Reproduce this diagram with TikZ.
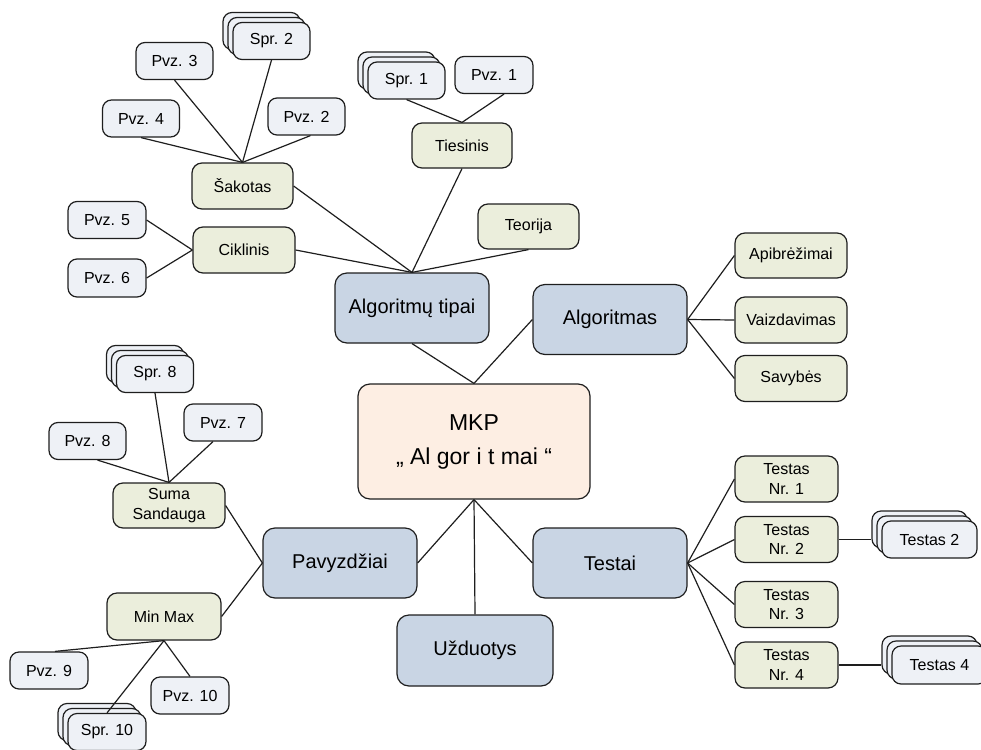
\documentclass[tikz,border=0pt]{standalone}
\usepackage{fontspec}
\setmainfont{Liberation Sans}
\definecolor{edge}{HTML}{1E1E1E}
\definecolor{leaffill}{HTML}{EEF1F6}
\definecolor{subfill}{HTML}{EBEEDC}
\definecolor{mainfill}{HTML}{C9D5E4}
\definecolor{rootfill}{HTML}{FDEEE3}
\begin{document}
\begin{tikzpicture}[x=1pt,y={(0pt,-1pt)},
  box/.style={draw=edge, line width=1.2pt, rounded corners=9pt, inner sep=0pt, align=center},
  leaf/.style={box, fill=leaffill, minimum width=77pt, minimum height=37pt,
    font=\fontsize{16}{19}\selectfont},
  sub/.style={box, fill=subfill, rounded corners=10pt, minimum height=45pt,
    font=\fontsize{16}{19.5}\selectfont},
  main/.style={box, fill=mainfill, rounded corners=12pt, minimum width=154pt,
    minimum height=70pt, font=\fontsize{20}{24}\selectfont},
  root/.style={box, fill=rootfill, rounded corners=12pt, minimum width=232pt,
    minimum height=115pt, font=\fontsize{23}{34}\selectfont},
  conn/.style={draw=edge, line width=1.2pt}]
\useasboundingbox (0,0) rectangle (981,749);

% centre and first level
\node[root] (mkp) at (474,441.5) {MKP\\„ Al gor i t mai “};
\node[main] (tipai) at (412,308) {Algoritmų tipai};
\node[main] (algo) at (610,319.5) {Algoritmas};
\node[main] (testai) at (610,563) {Testai};
\node[main] (pavyz) at (340,563) {Pavyzdžiai};
\node[main, minimum width=156pt, minimum height=71pt] (uzd) at (475,650.5) {Užduotys};

% second level
\node[sub, minimum width=100pt] (tiesinis) at (462,145.5) {Tiesinis};
\node[sub, minimum width=101pt] (teorija) at (528.5,226.5) {Teorija};
\node[sub, minimum width=101pt, minimum height=46pt] (sakotas) at (242.5,186) {Šakotas};
\node[sub, minimum width=102pt, minimum height=46pt] (ciklinis) at (244,250) {Ciklinis};
\node[sub, minimum width=112pt] (apibr) at (791,255.5) {Apibrėžimai};
\node[sub, minimum width=112pt, minimum height=46pt] (vaizd) at (791,320) {Vaizdavimas};
\node[sub, minimum width=112pt, minimum height=46pt] (savyb) at (791,378.5) {Savybės};
\node[sub, minimum width=103pt, minimum height=46pt] (nr1) at (786.5,479) {Testas\\Nr. 1};
\node[sub, minimum width=103pt, minimum height=46pt] (nr2) at (786.5,539.5) {Testas\\Nr. 2};
\node[sub, minimum width=103pt, minimum height=46pt] (nr3) at (786.5,604.5) {Testas\\Nr. 3};
\node[sub, minimum width=103pt, minimum height=46pt] (nr4) at (786.5,665) {Testas\\Nr. 4};
\node[sub, minimum width=112pt] (suma) at (169,505.5) {Suma\\Sandauga};
\node[sub, minimum width=114pt, minimum height=47pt] (minmax) at (164,616.5) {Min Max};

% leaves
\node[leaf, minimum width=78pt] (pvz1) at (494,75) {Pvz. 1};
\node[leaf] (pvz2) at (306.5,116.5) {Pvz. 2};
\node[leaf] (pvz3) at (174.5,61) {Pvz. 3};
\node[leaf] (pvz4) at (141,118.5) {Pvz. 4};
\node[leaf, minimum width=78pt] (pvz5) at (107,220) {Pvz. 5};
\node[leaf, minimum width=78pt, minimum height=38pt] (pvz6) at (107,278) {Pvz. 6};
\node[leaf, minimum width=78pt] (pvz7) at (223,422.5) {Pvz. 7};
\node[leaf] (pvz8) at (87.5,441) {Pvz. 8};
\node[leaf, minimum width=78pt] (pvz9) at (49,670.5) {Pvz. 9};
\node[leaf, minimum width=78pt] (pvz10) at (190,695.5) {Pvz. 10};

% stacked leaves (three sheets each)
\node[leaf] (spr1c) at (396.5,70.5) {};
\node[leaf] (spr1b) at (401.5,75.5) {};
\node[leaf] (spr1) at (406.5,80.5) {Spr. 1};
\node[leaf] (spr2c) at (261.5,31) {};
\node[leaf] (spr2b) at (266.5,36) {};
\node[leaf] (spr2) at (271.5,41) {Spr. 2};
\node[leaf] (spr8c) at (145,364) {};
\node[leaf] (spr8b) at (150,369) {};
\node[leaf] (spr8) at (155,374) {Spr. 8};
\node[leaf, minimum width=78pt] (spr10c) at (97,722) {};
\node[leaf, minimum width=78pt] (spr10b) at (102,727) {};
\node[leaf, minimum width=78pt] (spr10) at (107,732) {Spr. 10};
\node[leaf, minimum width=95pt] (testas2c) at (919.5,529.5) {};
\node[leaf, minimum width=95pt] (testas2b) at (924.5,534.5) {};
\node[leaf, minimum width=95pt] (testas2) at (929.5,539.5) {Testas 2};
\node[leaf, minimum width=95pt, minimum height=38pt] (testas4c) at (929.5,655) {};
\node[leaf, minimum width=95pt, minimum height=38pt] (testas4b) at (934.5,660) {};
\node[leaf, minimum width=95pt, minimum height=38pt] (testas4) at (939.5,665) {Testas 4};

% connectors
\draw[conn] (spr1.south) -- (tiesinis.north);
\draw[conn] ([xshift=10pt]pvz1.south) -- (tiesinis.north);
\draw[conn] (spr2.south) -- (sakotas.north);
\draw[conn] ([xshift=4pt]pvz2.south) -- (sakotas.north);
\draw[conn] (pvz3.south) -- (sakotas.north);
\draw[conn] (pvz4.south) -- (sakotas.north);
\draw[conn] (pvz5.east) -- (ciklinis.west);
\draw[conn] (pvz6.east) -- (ciklinis.west);
\draw[conn] (sakotas.east) -- (tipai.north);
\draw[conn] (ciklinis.east) -- (tipai.north);
\draw[conn] (tiesinis.south) -- (tipai.north);
\draw[conn] (teorija.south) -- (tipai.north);
\draw[conn] (tipai.south) -- (mkp.north);
\draw[conn] (algo.west) -- (mkp.north);
\draw[conn] (algo.east) -- (apibr.west);
\draw[conn] (algo.east) -- (vaizd.west);
\draw[conn] (algo.east) -- (savyb.west);
\draw[conn] (mkp.south) -- (pavyz.east);
\draw[conn] (mkp.south) -- (uzd.north);
\draw[conn] (mkp.south) -- (testai.west);
\draw[conn] (testai.east) -- (nr1.west);
\draw[conn] (testai.east) -- (nr2.west);
\draw[conn] (testai.east) -- (nr3.west);
\draw[conn] (testai.east) -- (nr4.west);
\draw[conn] (nr2.east) -- (nr2.east -| testas2c.west);
\draw[conn] (nr4.east) -- (nr4.east -| testas4c.west);
\draw[conn] (suma.east) -- (pavyz.west);
\draw[conn] (minmax.east) -- (pavyz.west);
\draw[conn] (spr8.south) -- (suma.north);
\draw[conn] ([xshift=-10pt]pvz7.south) -- (suma.north);
\draw[conn] ([xshift=10pt]pvz8.south) -- (suma.north);
\draw[conn] (minmax.south) -- ([xshift=6pt]pvz9.north);
\draw[conn] (minmax.south) -- (pvz10.north);
\draw[conn] (minmax.south) -- (spr10.north);
\end{tikzpicture}
\end{document}
